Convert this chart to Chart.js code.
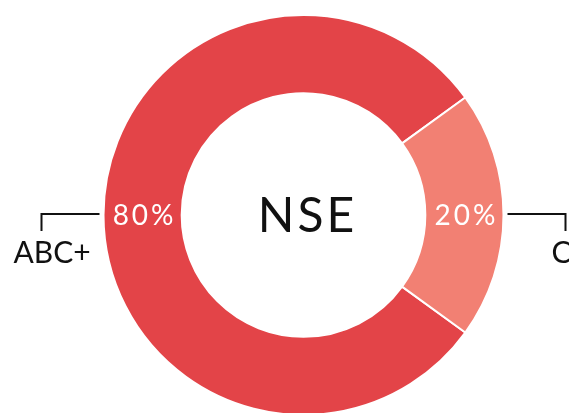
<!DOCTYPE html>
<html>
<head>
<meta charset="utf-8">
<script src="https://cdn.jsdelivr.net/npm/chart.js@4.4.1/dist/chart.umd.min.js"></script>
<style>
  html, body { margin: 0; padding: 0; background: #ffffff; overflow: hidden; }
  #wrap { width: 569px; height: 413px; position: relative; }
</style>
</head>
<body>
<div id="wrap"><canvas id="chart" width="569" height="413"></canvas></div>
<script>
// Segment names, shares and colours
const categories = ['ABC+', 'C'];
const shares = [80, 20];
const colors = ['#E34448', '#F28073'];
const centerTitle = 'NSE';

const FONT = 'Lato, "Open Sans", sans-serif';

// Percent labels inside each segment, leader lines and names outside, title in the hole
const ringLabels = {
  id: 'ringLabels',
  afterDatasetsDraw(chart) {
    const ctx = chart.ctx;
    const meta = chart.getDatasetMeta(0);
    const data = chart.data.datasets[0].data;
    const total = data.reduce((a, b) => a + b, 0);
    ctx.save();
    meta.data.forEach((arc, i) => {
      const p = arc.getCenterPoint();
      const pct = Math.round(data[i] / total * 100) + '%';
      ctx.fillStyle = '#ffffff';
      ctx.font = '400 28px ' + FONT;
      ctx.letterSpacing = '3px';
      ctx.textAlign = 'center';
      ctx.textBaseline = 'alphabetic';
      ctx.fillText(pct, p.x + 2, p.y + 10);

      // leader line from the outer edge, then down to the name
      const side = p.x < arc.x ? -1 : 1;
      const x0 = arc.x + side * (arc.outerRadius + 4);
      const x1 = x0 + side * 58;
      const ly = arc.y - 1;
      ctx.strokeStyle = '#111111';
      ctx.lineWidth = 2;
      ctx.beginPath();
      ctx.moveTo(x0, ly);
      ctx.lineTo(x1, ly);
      ctx.lineTo(x1, ly + 17);
      ctx.stroke();

      ctx.fillStyle = '#111111';
      ctx.font = '400 30px ' + FONT;
      ctx.letterSpacing = '0px';
      if (side < 0) {
        ctx.textAlign = 'left';
        ctx.fillText(categories[i], x1 - 28, arc.y + 48);
      } else {
        ctx.textAlign = 'right';
        ctx.fillText(categories[i], x1 + 6, arc.y + 48);
      }
    });

    const c = meta.data[0];
    ctx.fillStyle = '#111111';
    ctx.font = '400 48px ' + FONT;
    ctx.letterSpacing = '3px';
    ctx.textAlign = 'center';
    ctx.fillText(centerTitle, c.x + 4, c.y + 17);
    ctx.restore();
  }
};

new Chart(document.getElementById('chart'), {
  type: 'doughnut',
  data: {
    labels: categories,
    datasets: [{
      data: shares,
      backgroundColor: colors,
      borderColor: '#ffffff',
      borderWidth: 2,
      hoverOffset: 0,
      radius: 200,
      cutout: 120,
      clip: false
    }]
  },
  options: {
    responsive: false,
    animation: false,
    rotation: 126,
    layout: { padding: { left: 38, right: 0, top: 17, bottom: 0 } },
    plugins: {
      legend: { display: false },
      tooltip: { enabled: false },
      title: { display: false }
    },
    events: []
  },
  plugins: [ringLabels]
});
</script>
</body>
</html>
